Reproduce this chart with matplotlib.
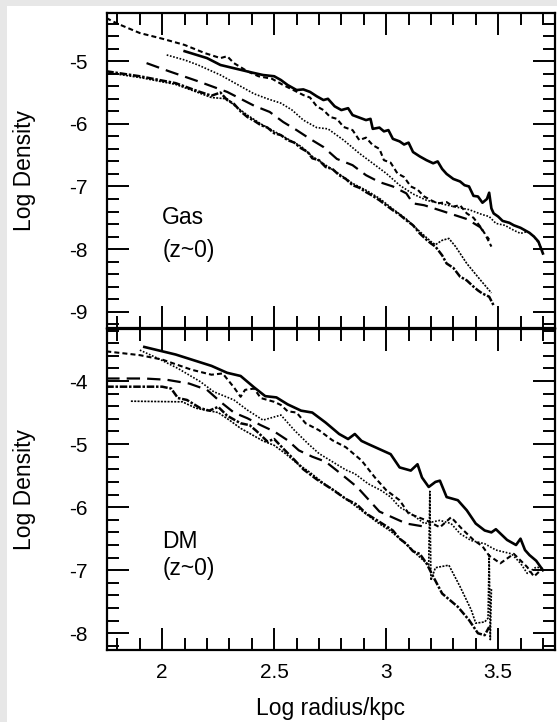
import matplotlib
matplotlib.use("Agg")
import matplotlib.pyplot as plt
from matplotlib.patches import Rectangle
from matplotlib.ticker import MultipleLocator, FixedLocator

plt.rcParams['font.family'] = ['Liberation Sans', 'DejaVu Sans']

# ---------------- data: Gas panel ----------------
gas_solid_x = [2.10, 2.20, 2.26, 2.33, 2.40, 2.45, 2.50, 2.53, 2.56, 2.60, 2.63, 2.66, 2.69, 2.72, 2.74, 2.77,
               2.80, 2.83, 2.85, 2.88, 2.91, 2.93, 2.94, 2.97, 2.99, 3.01, 3.03, 3.06, 3.08, 3.10, 3.12, 3.15,
               3.18, 3.21, 3.23, 3.25, 3.27, 3.30, 3.33, 3.35, 3.37, 3.39, 3.41, 3.43, 3.45, 3.46, 3.47, 3.48,
               3.50, 3.52, 3.55, 3.57, 3.60, 3.62, 3.64, 3.66, 3.68, 3.70]
gas_solid_y = [-4.84, -4.95, -5.06, -5.12, -5.18, -5.22, -5.24, -5.30, -5.38, -5.46, -5.45, -5.49, -5.56, -5.62,
               -5.60, -5.72, -5.78, -5.75, -5.86, -5.90, -5.94, -5.92, -6.08, -6.06, -6.12, -6.10, -6.24, -6.28,
               -6.33, -6.30, -6.45, -6.52, -6.58, -6.63, -6.60, -6.72, -6.80, -6.88, -6.92, -6.98, -7.00, -7.15,
               -7.16, -7.26, -7.20, -7.10, -7.35, -7.43, -7.48, -7.55, -7.58, -7.62, -7.66, -7.70, -7.74, -7.80,
               -7.88, -8.07]

gas_sdash_x = [1.75, 1.80, 1.90, 2.00, 2.10, 2.19, 2.26, 2.29, 2.32, 2.38, 2.43, 2.49, 2.54, 2.58, 2.63, 2.66,
               2.69, 2.72, 2.75, 2.78, 2.81, 2.85, 2.88, 2.91, 2.94, 2.97, 2.99, 3.02, 3.05, 3.08, 3.11, 3.14,
               3.17, 3.20, 3.23, 3.27, 3.30, 3.33, 3.36, 3.39, 3.42, 3.44, 3.47]
gas_sdash_y = [-4.31, -4.40, -4.55, -4.64, -4.74, -4.87, -4.95, -4.92, -5.03, -5.16, -5.24, -5.28, -5.38, -5.45,
               -5.54, -5.58, -5.72, -5.78, -5.89, -5.92, -6.05, -6.10, -6.26, -6.22, -6.34, -6.40, -6.58, -6.62,
               -6.79, -6.85, -7.00, -7.05, -7.16, -7.22, -7.27, -7.25, -7.32, -7.30, -7.43, -7.50, -7.64, -7.75,
               -7.96]

gas_dot_x = [2.02, 2.10, 2.16, 2.26, 2.33, 2.41, 2.47, 2.53, 2.58, 2.63, 2.69, 2.74, 2.81, 2.88, 2.94, 3.00,
             3.06, 3.12, 3.18, 3.24, 3.30, 3.37, 3.43, 3.46, 3.49, 3.53, 3.57, 3.60, 3.63, 3.66, 3.68, 3.70]
gas_dot_y = [-4.90, -4.98, -5.06, -5.22, -5.36, -5.52, -5.60, -5.67, -5.78, -5.94, -6.06, -6.08, -6.26, -6.47,
             -6.63, -6.79, -6.98, -7.12, -7.22, -7.27, -7.32, -7.37, -7.45, -7.48, -7.59, -7.62, -7.70, -7.75,
             -7.72, -7.80, -7.90, -8.04]

gas_ldash_x = [1.93, 2.03, 2.16, 2.29, 2.35, 2.41, 2.48, 2.54, 2.60, 2.66, 2.72, 2.78, 2.85, 2.91, 2.97, 3.03,
               3.09, 3.12, 3.17, 3.24, 3.30, 3.36, 3.42, 3.46]
gas_ldash_y = [-5.03, -5.16, -5.32, -5.49, -5.60, -5.71, -5.81, -5.97, -6.10, -6.24, -6.37, -6.56, -6.66, -6.82,
               -6.93, -7.00, -7.11, -7.27, -7.30, -7.38, -7.45, -7.52, -7.65, -7.85]

gas_ddot_x = [1.75, 1.90, 2.06, 2.16, 2.22, 2.26, 2.29, 2.32, 2.35, 2.38, 2.41, 2.44, 2.47, 2.50, 2.53, 2.56,
              2.59, 2.62, 2.65, 2.67, 2.70, 2.73, 2.76, 2.79, 2.82, 2.85, 2.88, 2.91, 2.94, 2.97, 3.00, 3.03,
              3.06, 3.09, 3.12, 3.15, 3.18, 3.20, 3.22, 3.25, 3.27, 3.30, 3.33, 3.36, 3.39, 3.41, 3.43, 3.46,
              3.48]
gas_ddot_y = [-5.16, -5.24, -5.35, -5.48, -5.55, -5.50, -5.62, -5.68, -5.80, -5.89, -5.95, -6.02, -6.06, -6.15,
              -6.18, -6.26, -6.30, -6.39, -6.45, -6.55, -6.58, -6.69, -6.72, -6.82, -6.88, -6.98, -7.02, -7.09,
              -7.15, -7.22, -7.30, -7.38, -7.45, -7.54, -7.62, -7.75, -7.85, -7.91, -7.96, -8.10, -8.23, -8.30,
              -8.44, -8.50, -8.60, -8.66, -8.71, -8.76, -8.90]

gas_thin_x = [1.75, 1.90, 2.06, 2.16, 2.22, 2.29, 2.32, 2.38, 2.44, 2.50, 2.56, 2.62, 2.67, 2.73, 2.79, 2.85,
              2.91, 2.97, 3.03, 3.09, 3.15, 3.20, 3.22, 3.25, 3.28, 3.31, 3.36, 3.42, 3.47]
gas_thin_y = [-5.18, -5.26, -5.37, -5.50, -5.58, -5.60, -5.70, -5.86, -6.00, -6.12, -6.24, -6.36, -6.52, -6.66,
              -6.80, -6.95, -7.06, -7.19, -7.36, -7.52, -7.72, -7.88, -7.93, -7.86, -7.83, -7.96, -8.23, -8.49,
              -8.70]

# ---------------- data: DM panel ----------------
dm_solid_x = [1.92, 2.06, 2.22, 2.29, 2.35, 2.41, 2.46, 2.51, 2.56, 2.62, 2.67, 2.73, 2.79, 2.83, 2.86, 2.89,
              2.92, 2.97, 3.02, 3.06, 3.11, 3.14, 3.16, 3.19, 3.22, 3.24, 3.27, 3.32, 3.36, 3.40, 3.44, 3.47,
              3.49, 3.54, 3.58, 3.60, 3.62, 3.64, 3.67, 3.70]
dm_solid_y = [-3.46, -3.58, -3.76, -3.87, -3.92, -4.10, -4.24, -4.26, -4.37, -4.47, -4.50, -4.66, -4.84, -4.92,
              -4.84, -4.95, -5.00, -5.08, -5.16, -5.37, -5.42, -5.32, -5.53, -5.68, -5.60, -5.58, -5.84, -5.89,
              -6.05, -6.26, -6.37, -6.40, -6.35, -6.52, -6.60, -6.50, -6.68, -6.76, -6.85, -7.00]

dm_sdash_x = [1.75, 1.90, 2.00, 2.13, 2.22, 2.27, 2.32, 2.35, 2.37, 2.41, 2.44, 2.50, 2.53, 2.56, 2.60, 2.64,
              2.70, 2.76, 2.82, 2.89, 2.95, 3.00, 3.06, 3.10, 3.18, 3.24, 3.29, 3.34, 3.39, 3.43, 3.46, 3.51,
              3.57, 3.63, 3.66, 3.69]
dm_sdash_y = [-3.53, -3.59, -3.66, -3.82, -3.90, -3.88, -4.10, -4.25, -4.14, -4.12, -4.27, -4.33, -4.38, -4.48,
              -4.50, -4.67, -4.78, -4.94, -5.05, -5.26, -5.53, -5.73, -5.89, -6.10, -6.21, -6.32, -6.16, -6.35,
              -6.52, -6.62, -6.77, -6.89, -6.74, -6.95, -7.10, -7.00]

dm_dot_x = [1.90, 1.98, 2.07, 2.17, 2.23, 2.32, 2.38, 2.45, 2.53, 2.59, 2.65, 2.70, 2.76, 2.82, 2.86, 2.92,
            2.98, 3.02, 3.06, 3.11, 3.17, 3.24, 3.29, 3.33, 3.38, 3.44, 3.49, 3.56, 3.60, 3.63, 3.67, 3.70]
dm_dot_y = [-3.51, -3.64, -3.80, -4.01, -4.17, -4.30, -4.46, -4.62, -4.54, -4.78, -4.99, -5.15, -5.28, -5.41,
            -5.47, -5.63, -5.74, -5.84, -6.00, -6.10, -6.26, -6.21, -6.26, -6.42, -6.53, -6.58, -6.68, -6.74,
            -6.89, -7.05, -6.95, -6.97]

dm_ldash_x = [1.75, 1.92, 2.02, 2.12, 2.20, 2.26, 2.32, 2.38, 2.44, 2.50, 2.56, 2.61, 2.67, 2.73, 2.78, 2.87,
              2.97, 3.09, 3.19]
dm_ldash_y = [-3.96, -3.96, -3.98, -4.04, -4.14, -4.33, -4.50, -4.59, -4.70, -4.80, -4.94, -5.10, -5.20, -5.28,
              -5.42, -5.68, -6.07, -6.26, -6.32]

dm_ddot_x = [1.75, 2.00, 2.04, 2.07, 2.11, 2.17, 2.21, 2.25, 2.29, 2.35, 2.39, 2.42, 2.47, 2.50, 2.54, 2.59,
             2.63, 2.69, 2.76, 2.82, 2.87, 2.91, 2.96, 3.00, 3.03, 3.06, 3.09, 3.12, 3.15, 3.18, 3.21, 3.25,
             3.32, 3.37, 3.41, 3.44, 3.46]
dm_ddot_y = [-4.09, -4.09, -4.12, -4.27, -4.30, -4.43, -4.47, -4.41, -4.55, -4.67, -4.70, -4.79, -4.96, -4.92,
             -5.07, -5.25, -5.40, -5.56, -5.72, -5.87, -5.96, -6.10, -6.21, -6.30, -6.37, -6.50, -6.58, -6.70,
             -6.74, -6.89, -7.10, -7.37, -7.58, -7.79, -8.00, -8.03, -7.90]

dm_thin_x = [1.86, 2.09, 2.15, 2.19, 2.25, 2.30, 2.35, 2.40, 2.45, 2.50, 2.55, 2.60, 2.66, 2.72, 2.78, 2.84,
             2.90, 2.96, 3.02, 3.08, 3.14, 3.19, 3.195, 3.20, 3.22, 3.28, 3.33, 3.38, 3.40, 3.44, 3.455, 3.46,
             3.465, 3.47]
dm_thin_y = [-4.32, -4.33, -4.43, -4.46, -4.50, -4.62, -4.75, -4.85, -4.95, -5.02, -5.15, -5.30, -5.45, -5.62,
             -5.76, -5.92, -6.08, -6.24, -6.38, -6.56, -6.76, -6.92, -5.75, -7.16, -6.96, -6.92, -7.26, -7.63,
             -7.84, -7.82, -7.76, -6.74, -8.10, -7.30]

x_major = [2.0, 2.5, 3.0, 3.5]
x_labels = ["2", "2.5", "3", "3.5"]
gas_yticks = [-5, -6, -7, -8, -9]
dm_yticks = [-4, -5, -6, -7, -8]

# ---------------- figure ----------------
W, H = 557, 722
fig = plt.figure(figsize=(W / 100, H / 100), dpi=100)
fig.patch.set_facecolor('#e7e7e7')
fig.patches.append(Rectangle((7 / W, 0), 1 - 7 / W, 1 - 6 / H, transform=fig.transFigure,
                             facecolor='white', edgecolor='none', zorder=-10))

left = 106.7 / W
width = (555.0 - 106.7) / W
ax_top = fig.add_axes([left, 1 - 328.3 / H, width, (328.3 - 12.7) / H])
ax_bot = fig.add_axes([left, 1 - 650.0 / H, width, (650.0 - 329.3) / H])

styles = {
    'solid': dict(color='black', lw=1.9, linestyle='-'),
    'sdash': dict(color='black', lw=1.5, linestyle=(0, (2.4, 1.5))),
    'dot': dict(color='black', lw=1.2, linestyle=(0, (1.0, 1.0))),
    'ldash': dict(color='black', lw=1.6, linestyle=(0, (6.0, 3.2))),
    'ddot': dict(color='black', lw=1.8, linestyle=(0, (3, 0.7, 1, 0.7))),
    'thin': dict(color='black', lw=1.2, linestyle=(0, (1.2, 0.8))),
}

for x, y, s in [(gas_solid_x, gas_solid_y, 'solid'), (gas_sdash_x, gas_sdash_y, 'sdash'),
                (gas_dot_x, gas_dot_y, 'dot'), (gas_ldash_x, gas_ldash_y, 'ldash'),
                (gas_ddot_x, gas_ddot_y, 'ddot'), (gas_thin_x, gas_thin_y, 'thin')]:
    ax_top.plot(x, y, **styles[s])

for x, y, s in [(dm_solid_x, dm_solid_y, 'solid'), (dm_sdash_x, dm_sdash_y, 'sdash'),
                (dm_dot_x, dm_dot_y, 'dot'), (dm_ldash_x, dm_ldash_y, 'ldash'),
                (dm_ddot_x, dm_ddot_y, 'ddot'), (dm_thin_x, dm_thin_y, 'thin')]:
    ax_bot.plot(x, y, **styles[s])

ax_top.set_ylim(-9.265, -4.225)
ax_bot.set_ylim(-8.265, -3.18)

for ax, yt in [(ax_top, gas_yticks), (ax_bot, dm_yticks)]:
    ax.set_xlim(1.752, 3.754)
    ax.set_facecolor('none')
    ax.xaxis.set_major_locator(FixedLocator(x_major))
    ax.xaxis.set_minor_locator(MultipleLocator(0.1))
    ax.yaxis.set_major_locator(FixedLocator(yt))
    ax.yaxis.set_minor_locator(MultipleLocator(0.2))
    ax.set_yticklabels([str(v) for v in yt])
    ax.tick_params(which='both', direction='in', top=True, right=True, width=1.4, colors='black')
    ax.tick_params(which='major', length=16, labelsize=15, pad=14)
    ax.tick_params(which='minor', length=8.5)
    for sp in ax.spines.values():
        sp.set_linewidth(1.6)
    ax.set_ylabel('Log Density', fontsize=16.5)
    ax.yaxis.set_label_coords(-0.158, 0.5)

ax_top.tick_params(axis='x', labelbottom=False)
ax_bot.set_xticklabels(x_labels)
ax_bot.tick_params(axis='x', pad=9)
ax_bot.set_xlabel('Log radius/kpc', fontsize=16.5, labelpad=11)

ax_top.text(2.0, -7.5, 'Gas', fontsize=16.5, va='center', ha='left')
ax_top.text(2.0, -8.03, '(z~0)', fontsize=16.5, va='center', ha='left')
ax_bot.text(2.0, -6.54, 'DM', fontsize=16.5, va='center', ha='left')
ax_bot.text(2.0, -6.98, '(z~0)', fontsize=16.5, va='center', ha='left')

fig.savefig('out.png', dpi=100, facecolor=fig.get_facecolor())
